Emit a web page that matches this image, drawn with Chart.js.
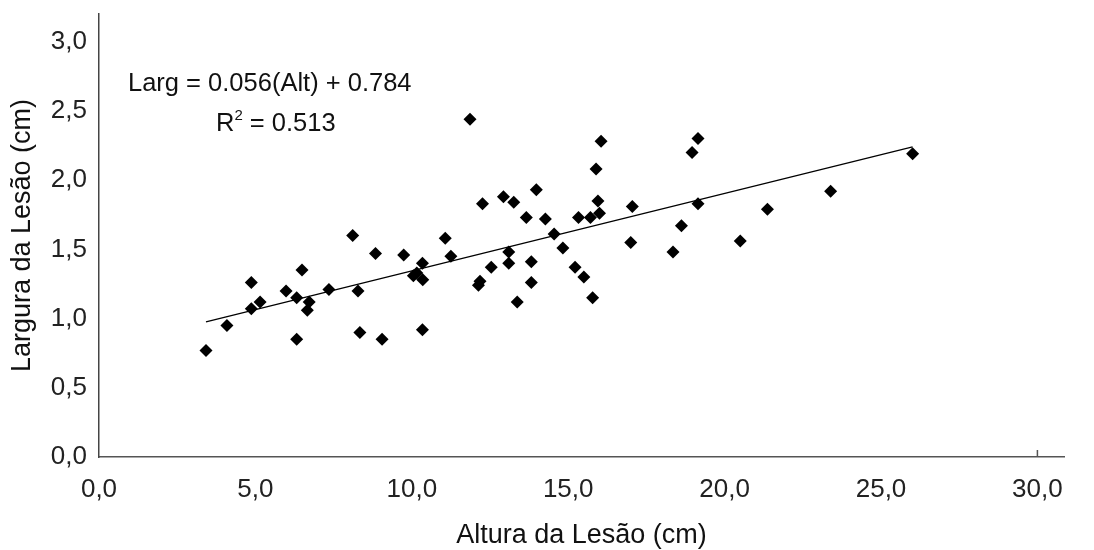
<!DOCTYPE html>
<html>
<head>
<meta charset="utf-8">
<script src="https://cdn.jsdelivr.net/npm/chart.js@4"></script>
<style>
  html, body { margin: 0; padding: 0; background: #fff; }
  #wrap { width: 1094px; height: 550px; }
</style>
</head>
<body>
<div id="wrap"><canvas id="scatter" width="1094" height="550"></canvas></div>
<script>
// Altura da lesão (cm) e largura da lesão (cm)
const altura = [
  3.42, 4.09, 4.87, 4.87, 5.15, 5.98, 6.32, 6.49, 6.72, 6.66,
  6.32, 7.35, 8.11, 8.28, 8.34, 8.84, 9.05, 9.74, 10.34, 10.16,
  10.35, 10.05, 10.34, 11.07, 11.25, 11.86, 12.26, 12.93, 13.26, 13.98,
  13.66, 14.27, 14.55, 14.83, 13.10, 13.10, 12.54, 12.18, 12.13, 13.82,
  13.82, 13.37, 15.22, 15.50, 15.78, 15.33, 15.71, 15.95, 16.00, 15.89,
  16.05, 17.05, 17.00, 18.62, 18.35, 18.96, 19.15, 19.15, 20.50, 21.37,
  23.39, 26.01
];
const largura = [
  0.77, 0.95, 1.26, 1.07, 1.12, 1.20, 1.15, 1.35, 1.12, 1.06,
  0.85, 1.21, 1.60, 1.20, 0.90, 1.47, 0.85, 1.46, 1.40, 1.33,
  1.28, 1.31, 0.92, 1.58, 1.45, 2.44, 1.83, 1.88, 1.84, 1.93,
  1.73, 1.72, 1.61, 1.51, 1.48, 1.40, 1.37, 1.27, 1.24, 1.41,
  1.26, 1.12, 1.37, 1.30, 1.15, 1.73, 1.73, 1.85, 1.76, 2.08,
  2.28, 1.81, 1.55, 1.67, 1.48, 2.20, 2.30, 1.83, 1.56, 1.79,
  1.92, 2.19
];

// reta de regressão: Larg = 0.056(Alt) + 0.784
const slope = 0.056;
const intercept = 0.784;
const r2 = 0.513;

const xTicks = [0, 5, 10, 15, 20, 25, 30];
const yTicks = [0, 0.5, 1, 1.5, 2, 2.5, 3];

const FONT = '"Liberation Sans", Arial, sans-serif';

const pontos = altura.map((a, i) => ({ x: a, y: largura[i] }));
const xMin = Math.min(...altura);
const xMax = Math.max(...altura);
const reta = [
  { x: xMin, y: slope * xMin + intercept },
  { x: xMax, y: slope * xMax + intercept }
];

const fmt = v => v.toFixed(1).replace('.', ',');

// texto da equação e marca de 30,0 no eixo x
const extras = {
  id: 'extras',
  afterDraw(chart) {
    const ctx = chart.ctx;
    const xs = chart.scales.x;
    ctx.save();
    ctx.strokeStyle = '#555';
    ctx.lineWidth = 1.5;
    const px = xs.getPixelForValue(30);
    ctx.beginPath();
    ctx.moveTo(px, xs.top);
    ctx.lineTo(px, xs.top - 7);
    ctx.stroke();

    ctx.fillStyle = '#111';
    ctx.textBaseline = 'alphabetic';
    ctx.font = '25.5px ' + FONT;
    ctx.fillText('Larg = ' + slope.toFixed(3) + '(Alt) + ' + intercept.toFixed(3), 128, 91);
    ctx.fillText('R', 216, 131);
    let w = ctx.measureText('R').width;
    ctx.font = '15px ' + FONT;
    ctx.fillText('2', 216 + w, 120);
    let w2 = ctx.measureText('2').width;
    ctx.font = '25.5px ' + FONT;
    ctx.fillText(' = ' + r2.toFixed(3), 216 + w + w2, 131);
    ctx.restore();
  }
};

new Chart(document.getElementById('scatter'), {
  type: 'scatter',
  data: {
    datasets: [
      {
        label: 'Largura',
        data: pontos,
        pointStyle: 'rectRot',
        pointRadius: 6.5,
        pointHoverRadius: 6.5,
        backgroundColor: '#000',
        borderColor: '#000',
        borderWidth: 0
      },
      {
        label: 'Tendência',
        data: reta,
        type: 'line',
        showLine: true,
        pointRadius: 0,
        borderColor: '#000',
        borderWidth: 1.2,
        fill: false
      }
    ]
  },
  options: {
    responsive: false,
    animation: false,
    layout: { padding: { left: 0, right: 30, top: 14, bottom: 0 } },
    plugins: {
      legend: { display: false },
      tooltip: { enabled: false }
    },
    scales: {
      x: {
        type: 'linear',
        min: 0,
        max: 30.85,
        afterFit(scale) {
          scale.height = 93;
          scale.paddingLeft = 0;
          scale.paddingRight = 0;
        },
        afterBuildTicks(scale) { scale.ticks = xTicks.map(v => ({ value: v })); },
        border: { display: true, color: '#555', width: 1.5 },
        grid: { display: false, drawTicks: false },
        ticks: {
          padding: 17,
          color: '#222',
          font: { family: FONT, size: 26 },
          callback: v => fmt(v)
        },
        title: {
          display: true,
          text: 'Altura da Lesão (cm)',
          color: '#111',
          font: { family: FONT, size: 27, lineHeight: 1.1 },
          padding: { top: 12, bottom: 0 }
        }
      },
      y: {
        type: 'linear',
        min: 0,
        max: 3.2,
        afterFit(scale) {
          scale.width = 99;
          scale.paddingTop = 0;
          scale.paddingBottom = 0;
        },
        afterBuildTicks(scale) { scale.ticks = yTicks.map(v => ({ value: v })); },
        border: { display: true, color: '#444', width: 1.5 },
        grid: { display: false, drawTicks: false },
        ticks: {
          padding: 12,
          color: '#222',
          font: { family: FONT, size: 26 },
          callback: v => fmt(v)
        },
        title: {
          display: true,
          text: 'Largura da Lesão (cm)',
          color: '#111',
          font: { family: FONT, size: 27 },
          padding: { top: 6, bottom: 0 }
        }
      }
    }
  },
  plugins: [extras]
});
</script>
</body>
</html>
